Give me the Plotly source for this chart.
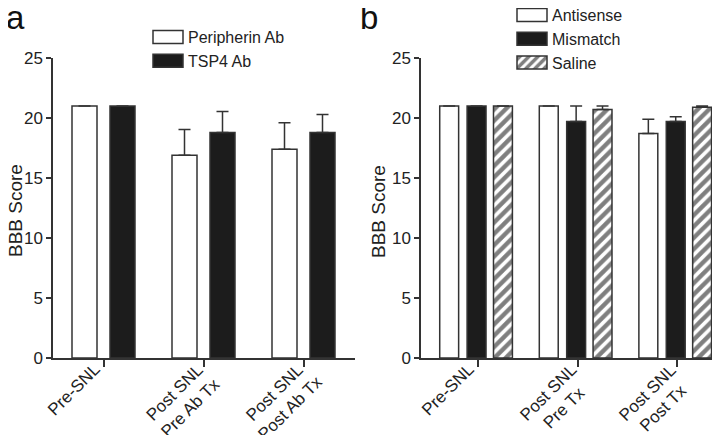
import plotly.graph_objects as go

# ---- data ----
cats_a = ["Pre-SNL", "Post SNL<br>Pre Ab Tx", "Post SNL<br>Post Ab Tx"]
peripherin = [21.0, 16.9, 17.4]
peripherin_err = [0.0, 2.15, 2.2]
tsp4 = [21.0, 18.8, 18.8]
tsp4_err = [0.0, 1.75, 1.5]

cats_b = ["Pre-SNL", "Post SNL<br>Pre Tx", "Post SNL<br>Post Tx"]
antisense = [21.0, 21.0, 18.7]
antisense_err = [0.0, 0.0, 1.2]
mismatch = [21.0, 19.7, 19.7]
mismatch_err = [0.0, 1.3, 0.4]
saline = [21.0, 20.7, 20.9]
saline_err = [0.0, 0.3, 0.1]

yticks = [0, 5, 10, 15, 20, 25]
ytitle = "BBB Score"

EDGE = "#333333"
BLACK = "#1c1c1c"
TEXT = "#222222"
FONT = "Liberation Sans, Arial, sans-serif"

fig = go.Figure()

def err(vals):
    return dict(type="data", symmetric=False, array=vals, arrayminus=[0] * len(vals),
                color=EDGE, thickness=1.5, width=6)

xpos = [0, 1, 2]

# panel a
fig.add_trace(go.Bar(x=xpos, y=peripherin, name="Peripherin Ab", width=0.25, offset=-0.32,
                     marker=dict(color="white", line=dict(color=EDGE, width=1.5)),
                     error_y=err(peripherin_err), xaxis="x", yaxis="y", legend="legend"))
fig.add_trace(go.Bar(x=xpos, y=tsp4, name="TSP4 Ab", width=0.25, offset=0.06,
                     marker=dict(color=BLACK, line=dict(color=EDGE, width=1.5)),
                     error_y=err(tsp4_err), xaxis="x", yaxis="y", legend="legend"))

# panel b
fig.add_trace(go.Bar(x=xpos, y=antisense, name="Antisense", width=0.19, offset=-0.385,
                     marker=dict(color="white", line=dict(color=EDGE, width=1.5)),
                     error_y=err(antisense_err), xaxis="x2", yaxis="y2", legend="legend2"))
fig.add_trace(go.Bar(x=xpos, y=mismatch, name="Mismatch", width=0.19, offset=-0.11,
                     marker=dict(color=BLACK, line=dict(color=EDGE, width=1.5)),
                     error_y=err(mismatch_err), xaxis="x2", yaxis="y2", legend="legend2"))
fig.add_trace(go.Bar(x=xpos, y=saline, name="Saline", width=0.19, offset=0.155,
                     marker=dict(color="white", line=dict(color=EDGE, width=1.5),
                                 pattern=dict(shape="/", fgcolor="#000000", bgcolor="white",
                                              size=8, solidity=0.55)),
                     error_y=err(saline_err), xaxis="x2", yaxis="y2", legend="legend2"))

ydom = [1 - 350 / 435, 1 - 50 / 435]

axis_common = dict(showline=True, linecolor=EDGE, linewidth=1.5, ticks="outside",
                   tickwidth=1.5, tickcolor=EDGE, showgrid=False, zeroline=False,
                   automargin=False)
ytickfont = dict(family=FONT, size=17, color=TEXT)
xlabfont = dict(family=FONT, size=17, color=TEXT)

fig.update_layout(
    width=720, height=435,
    margin=dict(l=0, r=0, t=0, b=0, autoexpand=False),
    paper_bgcolor="white", plot_bgcolor="white",
    barmode="overlay",
    showlegend=True,
    font=dict(family=FONT, size=16, color=TEXT),
    xaxis=dict(domain=[45 / 720, 347 / 720], range=[-0.51, 2.51], tickmode="array",
               tickvals=xpos, showticklabels=False, ticklen=7, anchor="y", **axis_common),
    yaxis=dict(domain=ydom, range=[0, 25], tickmode="array", tickvals=yticks, ticklen=5,
               anchor="x", tickfont=ytickfont, **axis_common),
    xaxis2=dict(domain=[413 / 720, 1.0], range=[-0.573, 2.51], tickmode="array",
                tickvals=xpos, showticklabels=False, ticklen=7, anchor="y2", **axis_common),
    yaxis2=dict(domain=ydom, range=[0, 25], tickmode="array", tickvals=yticks, ticklen=5,
                anchor="x2", tickfont=ytickfont, **axis_common),
    legend=dict(x=140 / 720, y=1 - 12 / 435, xanchor="left", yanchor="top",
                bgcolor="rgba(0,0,0,0)", font=dict(size=16), itemwidth=30,
                traceorder="normal", tracegroupgap=0),
    legend2=dict(x=504 / 720, y=1 + 10 / 435, xanchor="left", yanchor="top",
                 bgcolor="rgba(0,0,0,0)", font=dict(size=16), itemwidth=30,
                 traceorder="normal", tracegroupgap=0),
)

# panel letters
for lx, letter, sh in ((0, "a", -4), (358 / 720, "b", -8)):
    fig.add_annotation(text=letter, x=lx, y=1.0, xref="paper", yref="paper", xanchor="left",
                       yanchor="top", xshift=sh, yshift=11, showarrow=False,
                       font=dict(size=33, family=FONT, color="#111"))

# y-axis titles
for xp in (7 / 720, 370 / 720):
    fig.add_annotation(text=ytitle, x=xp, y=1 - 203 / 435, xref="paper", yref="paper",
                       xanchor="center", yanchor="middle", textangle=-90, showarrow=False,
                       font=dict(size=19, family=FONT, color=TEXT))

# rotated category labels
for cats, xr, yr in ((cats_a, "x", "y"), (cats_b, "x2", "y2")):
    for xv, lab in zip(xpos, cats):
        if "<br>" in lab:
            fig.add_annotation(text=lab, x=xv, y=0, xref=xr, yref=yr, xanchor="center",
                               yanchor="middle", textangle=-45, align="center",
                               showarrow=False, borderpad=0, xshift=-22, yshift=-42,
                               font=xlabfont)
        else:
            fig.add_annotation(text=lab, x=xv, y=0, xref=xr, yref=yr, xanchor="right",
                               yanchor="top", textangle=-45, align="right",
                               showarrow=False, borderpad=0, xshift=1, yshift=0,
                               font=xlabfont)

post = """
var gd = document.getElementById('{plot_id}');
gd.querySelectorAll('g.legendpoints path').forEach(function(p){
    p.setAttribute('d', 'M15,6.5H-15V-6.5H15Z');
});
"""

fig.write_html("out.html", post_script=post)
